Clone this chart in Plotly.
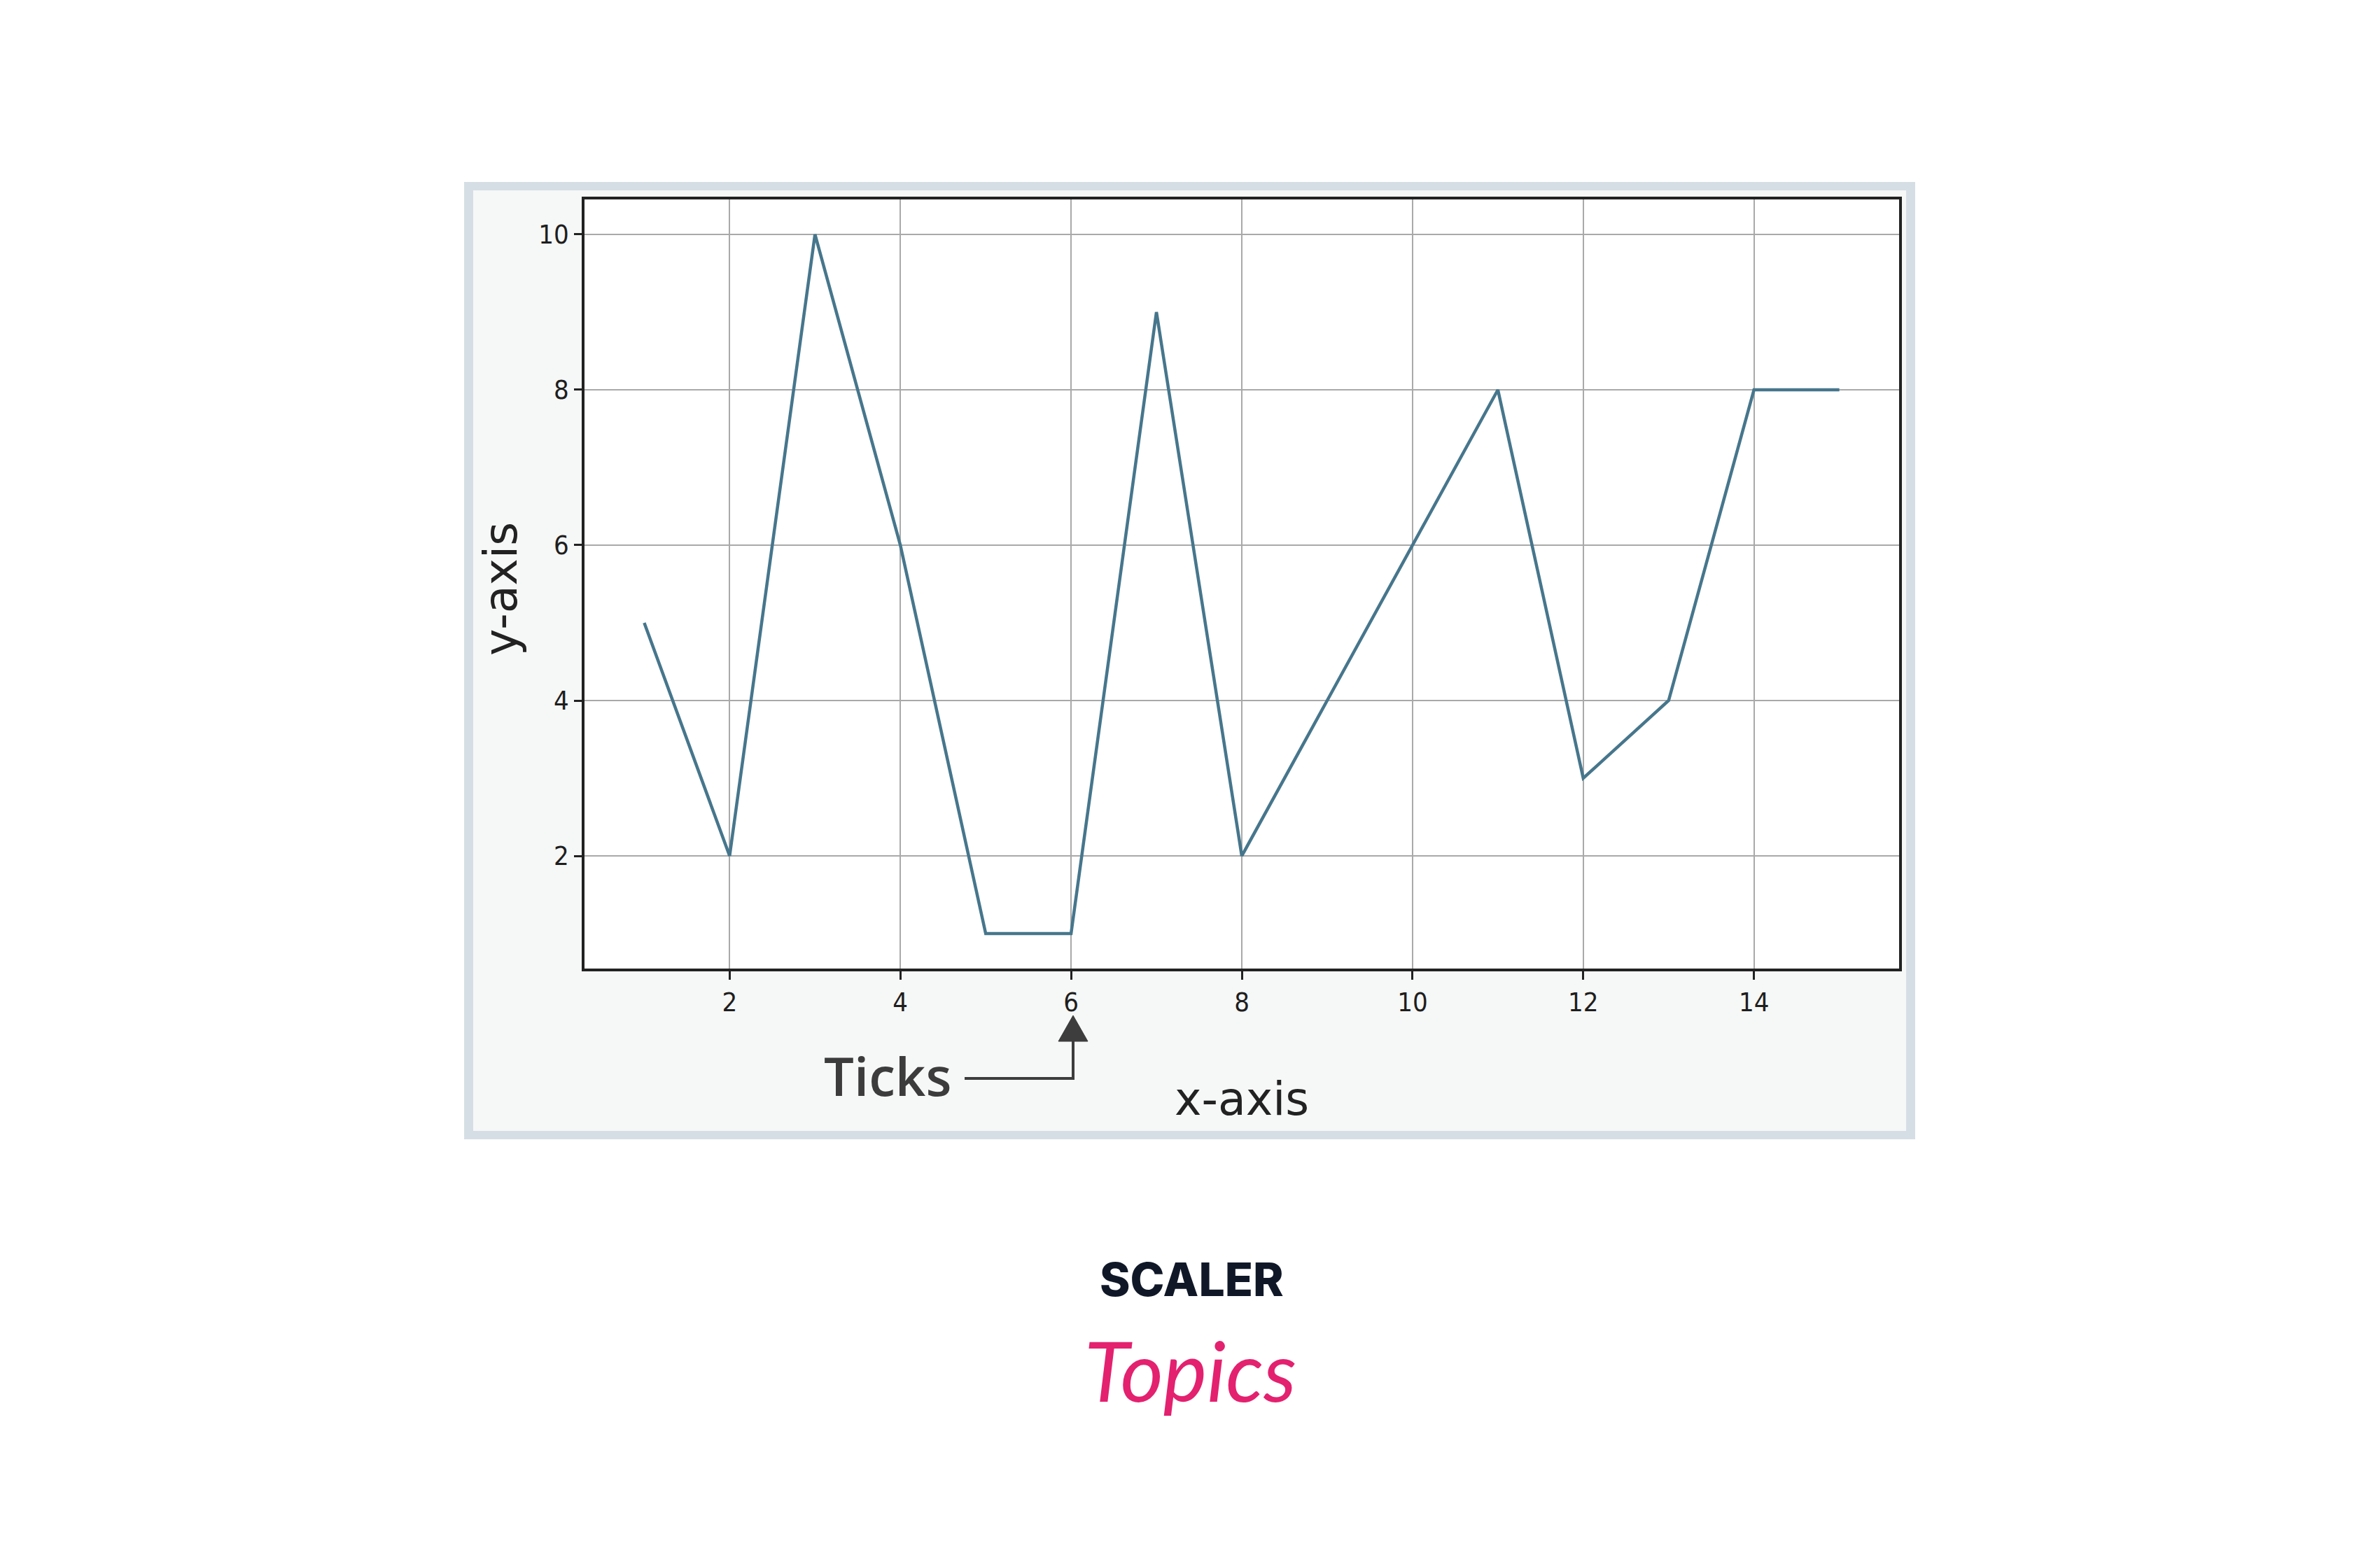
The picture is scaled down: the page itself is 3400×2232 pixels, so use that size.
import plotly.graph_objects as go

# ---- data ----
x_values = list(range(1, 16))
y_values = [5, 2, 10, 6, 1, 1, 9, 2, 4, 6, 8, 3, 4, 8, 8]
x_ticks = [2, 4, 6, 8, 10, 12, 14]
y_ticks = [2, 4, 6, 8, 10]
x_title = "x-axis"
y_title = "y-axis"
callout_text = "Ticks"
brand_top = "SCALER"
brand_bottom = "Topics"

OFF = 8  # default page body margin
W, H = 3400 - OFF, 2232 - OFF
L, R, T, B = 835 - OFF, 2713 - OFF, 285 - OFF, 1384 - OFF  # plot area in figure pixels


def px(X):
    return (X - OFF - L) / (R - L)


def py(Y):
    return (B - (Y - OFF)) / (B - T)


fig = go.Figure()
fig.add_trace(go.Scatter(
    x=x_values, y=y_values, mode="lines",
    line=dict(color="#46768c", width=4.5),
    hoverinfo="skip", showlegend=False,
))

tick_font = dict(family="Liberation Sans Narrow, DejaVu Sans Condensed, DejaVu Sans",
                 size=38, color="#1e1e1e")

fig.update_xaxes(
    range=[0.3, 15.7], tickvals=x_ticks, ticktext=[str(v) for v in x_ticks],
    showgrid=True, gridcolor="#a9a9a9", gridwidth=2,
    showline=True, linecolor="#222222", linewidth=3.5, mirror=True,
    ticks="outside", ticklen=12, tickwidth=2.5, tickcolor="#222222",
    tickfont=tick_font, zeroline=False,
)
fig.update_yaxes(
    range=[0.55, 10.45], tickvals=y_ticks, ticktext=[str(v) for v in y_ticks],
    showgrid=True, gridcolor="#a9a9a9", gridwidth=2,
    showline=True, linecolor="#222222", linewidth=3.5, mirror=True,
    ticks="outside", ticklen=11, tickwidth=2.5, tickcolor="#222222",
    tickfont=tick_font, zeroline=False,
)

shapes = [
    # outer frame border
    dict(type="rect", xref="paper", yref="paper", layer="below",
         x0=px(663), x1=px(2736), y0=py(1628), y1=py(260),
         fillcolor="#d6dee5", line=dict(width=0)),
    # inner light panel
    dict(type="rect", xref="paper", yref="paper", layer="below",
         x0=px(676), x1=px(2723), y0=py(1616), y1=py(272),
         fillcolor="#f6f7f7", line=dict(width=0)),
    # plot area
    dict(type="rect", xref="paper", yref="paper", layer="below",
         x0=0, x1=1, y0=0, y1=1,
         fillcolor="#ffffff", line=dict(width=0)),
    # callout connector line
    dict(type="path", xref="paper", yref="paper", layer="above",
         path=f"M {px(1378)},{py(1541)} L {px(1533)},{py(1541)} L {px(1533)},{py(1484)}",
         line=dict(color="#3d3d3d", width=4)),
    # arrow head
    dict(type="path", xref="paper", yref="paper", layer="above",
         path=f"M {px(1512)},{py(1488)} L {px(1554)},{py(1488)} L {px(1533)},{py(1451)} Z",
         fillcolor="#3d3d3d", line=dict(color="#3d3d3d", width=1)),
]

annotations = [
    dict(text=x_title, xref="paper", yref="paper", x=px(1774), y=py(1570),
         xanchor="center", yanchor="middle", showarrow=False,
         font=dict(family="DejaVu Sans", size=65, color="#222222")),
    dict(text=y_title, xref="paper", yref="paper", x=px(716), y=py(842),
         xanchor="center", yanchor="middle", showarrow=False, textangle=-90,
         font=dict(family="DejaVu Sans", size=65, color="#222222")),
    dict(text=callout_text, xref="paper", yref="paper", x=px(1268), y=py(1536),
         xanchor="center", yanchor="middle", showarrow=False,
         font=dict(family="Open Sans", size=76, color="#3c3c3c", weight=600)),
    dict(text=brand_top, xref="paper", yref="paper", x=px(1702), y=py(1828),
         xanchor="center", yanchor="middle", showarrow=False,
         font=dict(family="Inter", size=66, color="#101828", weight=800)),
    dict(text=brand_bottom, xref="paper", yref="paper", x=px(1700), y=py(1958),
         xanchor="center", yanchor="middle", showarrow=False,
         font=dict(family="Lato", size=118, color="#e3216f", style="italic")),
]

fig.update_layout(
    width=W, height=H,
    margin=dict(l=L, r=W - R, t=T, b=H - B, pad=0),
    paper_bgcolor="#ffffff", plot_bgcolor="#ffffff",
    shapes=shapes, annotations=annotations,
    showlegend=False,
)

fig.write_html("out.html", config={"displayModeBar": False})
